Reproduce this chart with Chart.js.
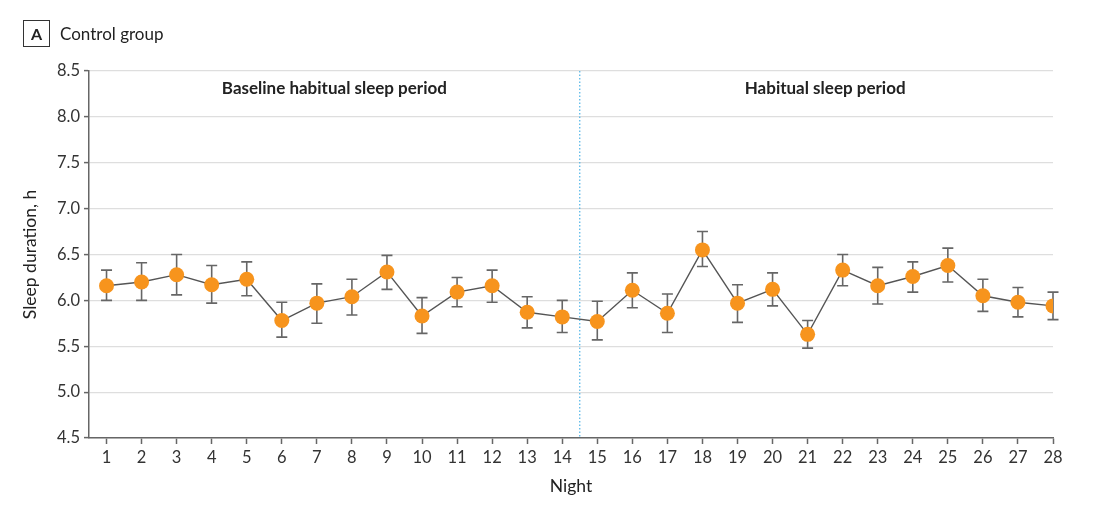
<!DOCTYPE html>
<html>
<head>
<meta charset="utf-8">
<script src="https://cdn.jsdelivr.net/npm/chart.js@4.4.1/dist/chart.umd.min.js"></script>
<style>
  html, body { margin: 0; padding: 0; background: #fff; }
  #wrap { position: relative; width: 1117px; height: 513px; }
  #panel { position: absolute; left: 23px; top: 20px; display: flex; align-items: center;
           font-family: Lato, "Open Sans", sans-serif; color: #222; }
  #panel .tag { width: 25px; height: 25px; border: 1.5px solid #333; font-weight: bold;
                font-size: 16px; display: flex; align-items: center; justify-content: center; }
  #panel .name { margin-left: 10px; font-size: 17px; }
</style>
</head>
<body>
<div id="wrap">
  <div id="panel"><div class="tag">A</div><div class="name">Control group</div></div>
  <canvas id="sleepChart" width="1117" height="513"></canvas>
</div>
<script>
// nights and mean sleep duration (h) with error bar limits
const nights = [1, 2, 3, 4, 5, 6, 7, 8, 9, 10, 11, 12, 13, 14,
                15, 16, 17, 18, 19, 20, 21, 22, 23, 24, 25, 26, 27, 28];
const meanSleep = [6.16, 6.20, 6.28, 6.17, 6.23, 5.78, 5.97, 6.04, 6.31, 5.83, 6.09, 6.16, 5.87, 5.82,
                   5.77, 6.11, 5.86, 6.55, 5.97, 6.12, 5.63, 6.33, 6.16, 6.26, 6.38, 6.05, 5.98, 5.94];
const upperSleep = [6.33, 6.41, 6.50, 6.38, 6.42, 5.98, 6.18, 6.23, 6.49, 6.03, 6.25, 6.33, 6.04, 6.00,
                    5.99, 6.30, 6.07, 6.75, 6.17, 6.30, 5.78, 6.50, 6.36, 6.42, 6.57, 6.23, 6.14, 6.09];
const lowerSleep = [6.00, 6.00, 6.06, 5.97, 6.05, 5.60, 5.75, 5.84, 6.12, 5.64, 5.93, 5.98, 5.70, 5.65,
                    5.57, 5.92, 5.65, 6.37, 5.76, 5.94, 5.48, 6.16, 5.96, 6.09, 6.20, 5.88, 5.82, 5.79];
const yTicks = [4.5, 5.0, 5.5, 6.0, 6.5, 7.0, 7.5, 8.0, 8.5];
const periodSplit = 14.5;
const periods = [
    { label: "Baseline habitual sleep period", center: 7.5 },
    { label: "Habitual sleep period", center: 21.5 }
];

const FONT = "Lato, 'Open Sans', sans-serif";

// dotted divider between periods + period headings
const periodPlugin = {
    id: "periods",
    beforeDatasetsDraw(chart) {
        const { ctx, chartArea, scales } = chart;
        const x = scales.x.getPixelForValue(periodSplit);
        ctx.save();
        ctx.strokeStyle = "#4db3e6";
        ctx.lineWidth = 1.2;
        ctx.setLineDash([1.5, 2]);
        ctx.beginPath();
        ctx.moveTo(x, chartArea.top);
        ctx.lineTo(x, chartArea.bottom);
        ctx.stroke();
        ctx.setLineDash([]);
        ctx.fillStyle = "#222";
        ctx.font = "bold 17px " + FONT;
        ctx.textAlign = "center";
        ctx.textBaseline = "middle";
        periods.forEach(p => {
            ctx.fillText(p.label, scales.x.getPixelForValue(p.center), scales.y.getPixelForValue(8.31));
        });
        ctx.restore();
    }
};

// error bars drawn from the upper/lower arrays
const errorBarPlugin = {
    id: "errorBars",
    beforeDatasetsDraw(chart) {
        const { ctx, scales } = chart;
        const cap = 5.5;
        ctx.save();
        ctx.strokeStyle = "#666";
        ctx.lineWidth = 1.6;
        nights.forEach((n, i) => {
            const x = scales.x.getPixelForValue(n);
            const yTop = scales.y.getPixelForValue(upperSleep[i]);
            const yBot = scales.y.getPixelForValue(lowerSleep[i]);
            ctx.beginPath();
            ctx.moveTo(x, yTop);
            ctx.lineTo(x, yBot);
            ctx.moveTo(x - cap, yTop);
            ctx.lineTo(x + cap, yTop);
            ctx.moveTo(x - cap, yBot);
            ctx.lineTo(x + cap, yBot);
            ctx.stroke();
        });
        ctx.restore();
    }
};

new Chart(document.getElementById("sleepChart"), {
    type: "line",
    data: {
        datasets: [{
            label: "Sleep duration",
            data: nights.map((n, i) => ({ x: n, y: meanSleep[i] })),
            borderColor: "#555",
            borderWidth: 1.4,
            pointBackgroundColor: "#f7941d",
            pointBorderColor: "#f7941d",
            pointRadius: 7.5,
            pointBorderWidth: 0,
            tension: 0
        }]
    },
    options: {
        responsive: false,
        animation: false,
        layout: { padding: { top: 71, right: 64, left: 20, bottom: 16 } },
        plugins: {
            legend: { display: false },
            tooltip: { enabled: false }
        },
        scales: {
            x: {
                type: "linear",
                min: 0.5,
                max: 28,
                afterBuildTicks: scale => { scale.ticks = nights.map(v => ({ value: v })); },
                afterFit: scale => { scale.height = 59; },
                grid: { drawOnChartArea: false, drawTicks: true, tickLength: 6, tickColor: "#666", tickWidth: 1.5 },
                border: { color: "#666", width: 1.5 },
                ticks: { color: "#333", font: { family: FONT, size: 16.5 }, padding: 4, maxRotation: 0, autoSkip: false },
                title: { display: true, text: "Night", color: "#222", font: { family: FONT, size: 17.5 }, padding: { top: 4, bottom: 0 } }
            },
            y: {
                min: 4.5,
                max: 8.5,
                afterBuildTicks: scale => { scale.ticks = yTicks.map(v => ({ value: v })); },
                afterFit: scale => { scale.width = 69; },
                grid: { color: "#dedede", lineWidth: 1.2, tickLength: 5, tickColor: "#666", tickWidth: 1.5 },
                border: { color: "#666", width: 1.5 },
                ticks: { color: "#333", font: { family: FONT, size: 16.5 }, padding: 4,
                         callback: v => v.toFixed(1) },
                title: { display: true, text: "Sleep duration, h", color: "#222", font: { family: FONT, size: 17.5 }, padding: { top: 0, bottom: 0 } }
            }
        }
    },
    plugins: [periodPlugin, errorBarPlugin]
});
</script>
</body>
</html>
